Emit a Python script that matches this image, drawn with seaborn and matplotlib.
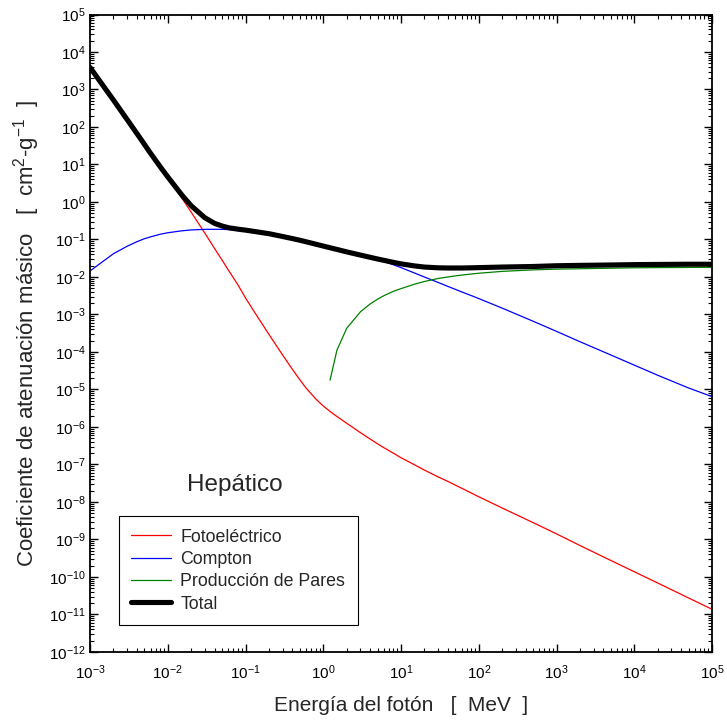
import numpy as np
import pandas as pd
import matplotlib
matplotlib.use("Agg")
import matplotlib.pyplot as plt
import seaborn as sns
from matplotlib.ticker import LogLocator, NullFormatter

# photon energy grid [MeV]
energia = [0.001, 0.0015, 0.002, 0.003, 0.004, 0.005, 0.006, 0.008, 0.01, 0.015,
           0.02, 0.03, 0.04, 0.05, 0.06, 0.08, 0.1, 0.15, 0.2, 0.3,
           0.4, 0.5, 0.6, 0.8, 1.0, 1.25, 1.5, 2, 3, 4,
           5, 6, 8, 10, 15, 20, 30, 40, 50, 60,
           80, 100, 200, 500, 1000, 2000, 5000, 1e4, 2e4, 5e4, 1e5]

# log10 of the mass attenuation coefficient [cm2/g]
log_foto = [3.59, 3.08, 2.72, 2.20, 1.83, 1.54, 1.30, 0.93, 0.65, 0.12,
            -0.27, -0.83, -1.24, -1.55, -1.81, -2.21, -2.56, -3.13, -3.53, -4.08,
            -4.46, -4.74, -4.96, -5.25, -5.44, -5.60, -5.72, -5.90, -6.15, -6.32,
            -6.45, -6.55, -6.70, -6.82, -7.01, -7.15, -7.33, -7.45, -7.55, -7.63,
            -7.76, -7.86, -8.16, -8.55, -8.85, -9.16, -9.56, -9.86, -10.16, -10.56, -10.86]

log_compton = [-1.84, -1.57, -1.38, -1.18, -1.06, -0.98, -0.93, -0.86, -0.82, -0.77,
               -0.745, -0.73, -0.728, -0.73, -0.735, -0.75, -0.765, -0.81, -0.85, -0.925,
               -0.98, -1.025, -1.065, -1.13, -1.18, -1.23, -1.27, -1.335, -1.425, -1.49,
               -1.54, -1.585, -1.675, -1.75, -1.895, -2.0, -2.145, -2.25, -2.33, -2.395,
               -2.495, -2.575, -2.83, -3.18, -3.45, -3.725, -4.08, -4.35, -4.62, -4.96, -5.19]

log_total = [3.59, 3.08, 2.72, 2.20, 1.83, 1.54, 1.30, 0.94, 0.67, 0.20,
             -0.10, -0.42, -0.57, -0.64, -0.685, -0.725, -0.75, -0.805, -0.845, -0.92,
             -0.975, -1.02, -1.06, -1.125, -1.175, -1.225, -1.265, -1.33, -1.415, -1.475,
             -1.52, -1.555, -1.61, -1.65, -1.705, -1.735, -1.755, -1.76, -1.76, -1.76,
             -1.755, -1.75, -1.735, -1.72, -1.70, -1.69, -1.68, -1.67, -1.665, -1.66, -1.66]

energia_pares = [1.222, 1.5, 2, 3, 4, 5, 6, 8, 10, 15, 20, 30, 40, 50, 60, 80, 100,
                 200, 500, 1000, 2000, 5000, 1e4, 2e4, 5e4, 1e5]
log_pares = [-4.75, -3.95, -3.37, -2.93, -2.72, -2.59, -2.50, -2.38, -2.31, -2.19,
             -2.12, -2.04, -2.00, -1.97, -1.95, -1.92, -1.90, -1.85, -1.81, -1.79,
             -1.78, -1.765, -1.755, -1.75, -1.745, -1.742]

df = pd.DataFrame({"E": energia,
                   "foto": 10 ** np.array(log_foto),
                   "compton": 10 ** np.array(log_compton),
                   "total": 10 ** np.array(log_total)})
df_pares = pd.DataFrame({"E": energia_pares, "pares": 10 ** np.array(log_pares)})

sns.set_style("ticks")
plt.rcParams['font.family'] = ['Liberation Sans', 'DejaVu Sans']
plt.rcParams['mathtext.fontset'] = 'custom'
plt.rcParams['mathtext.rm'] = 'Liberation Sans'
plt.rcParams['mathtext.it'] = 'Liberation Sans:italic'

fig = plt.figure(figsize=(7.27, 7.25), dpi=100)
ax = fig.add_axes([0.1238, 0.1007, 0.8556, 0.8793])

sns.lineplot(data=df, x="E", y="foto", ax=ax, color="#ff0000", lw=0.9,
             label="Fotoeléctrico", estimator=None, sort=False)
sns.lineplot(data=df, x="E", y="compton", ax=ax, color="#0000ff", lw=0.9,
             label="Compton", estimator=None, sort=False)
sns.lineplot(data=df_pares, x="E", y="pares", ax=ax, color="#008000", lw=0.9,
             label="Producción de Pares", estimator=None, sort=False)
sns.lineplot(data=df, x="E", y="total", ax=ax, color="black", lw=3.7,
             label="Total", estimator=None, sort=False)

ax.set_xscale("log")
ax.set_yscale("log")
ax.set_xlim(1e-3, 1e5)
ax.set_ylim(1e-12, 1e5)

ax.xaxis.set_major_locator(LogLocator(base=10, numticks=30))
ax.yaxis.set_major_locator(LogLocator(base=10, numticks=30))
ax.xaxis.set_minor_locator(LogLocator(base=10, subs=np.arange(2, 10), numticks=30))
ax.yaxis.set_minor_locator(LogLocator(base=10, subs=np.arange(2, 10), numticks=30))
ax.xaxis.set_minor_formatter(NullFormatter())
ax.yaxis.set_minor_formatter(NullFormatter())

ax.tick_params(which="both", direction="in", top=True, right=True, colors="black")
ax.tick_params(which="major", length=5.5, width=1, labelsize=11)
ax.tick_params(axis="x", which="major", pad=8)
ax.tick_params(axis="y", which="major", pad=3)
ax.tick_params(which="minor", length=3, width=0.8)
for s in ax.spines.values():
    s.set_linewidth(1.3)
    s.set_color("black")

ax.set_xlabel("Energía del fotón   [  MeV  ]", fontsize=15, labelpad=10)
ax.set_ylabel("Coeficiente de atenuación másico   [  cm$^{2}$-g$^{-1}$  ]",
              fontsize=16, labelpad=5)

ax.text(0.233, 0.262, "Hepático", transform=ax.transAxes, fontsize=17.5,
        ha="center", va="center")

leg = ax.legend(loc="lower left", bbox_to_anchor=(0.0466, 0.0424), borderaxespad=0,
                fontsize=12.8, frameon=True, fancybox=False, framealpha=1,
                edgecolor="black", handlelength=2.2, handletextpad=0.55,
                borderpad=0.7, labelspacing=0.3)
leg.get_frame().set_linewidth(0.8)

fig.savefig("out.png", dpi=100)
